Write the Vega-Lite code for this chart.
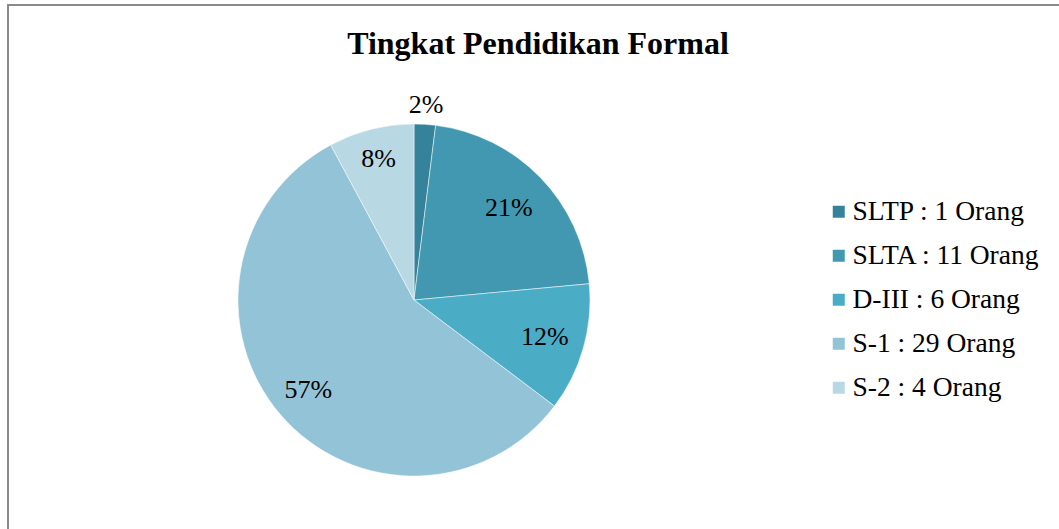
{
  "$schema": "https://vega.github.io/schema/vega-lite/v6.json",
  "width": 1060,
  "height": 530,
  "autosize": {"type": "none"},
  "padding": {"left": 8, "top": 5, "right": 0, "bottom": 0},
  "background": "white",
  "view": {"stroke": "#8a8a8a", "strokeWidth": 2, "fill": "white"},
  "config": {"view": {"stroke": "#8a8a8a", "strokeWidth": 2}, "font": "Liberation Serif"},
  "title": {"text": "Tingkat Pendidikan Formal", "font": "Liberation Serif", "fontSize": 32, "fontWeight": "bold", "color": "#000000", "anchor": "middle", "dy": 60},
  "data": {"values": [
    {"cat": "SLTP : 1 Orang", "value": 1, "pct": "2%", "order": 1},
    {"cat": "SLTA : 11 Orang", "value": 11, "pct": "21%", "order": 2},
    {"cat": "D-III : 6 Orang", "value": 6, "pct": "12%", "order": 3},
    {"cat": "S-1 : 29 Orang", "value": 29, "pct": "57%", "order": 4},
    {"cat": "S-2 : 4 Orang", "value": 4, "pct": "8%", "order": 5}
  ]},
  "encoding": {
    "theta": {"field": "value", "type": "quantitative", "stack": true},
    "order": {"field": "order", "type": "quantitative"}
  },
  "layer": [
    {
      "mark": {"type": "arc", "x": 406, "y": 295, "outerRadius": 176, "stroke": "white", "strokeWidth": 0.5},
      "encoding": {
        "color": {
          "field": "cat", "type": "nominal",
          "sort": ["SLTP : 1 Orang", "SLTA : 11 Orang", "D-III : 6 Orang", "S-1 : 29 Orang", "S-2 : 4 Orang"],
          "scale": {"domain": ["SLTP : 1 Orang", "SLTA : 11 Orang", "D-III : 6 Orang", "S-1 : 29 Orang", "S-2 : 4 Orang"], "range": ["#34839a", "#4298b0", "#4bacc6", "#93c3d6", "#b8d8e4"]},
          "legend": {"title": null, "orient": "none", "legendX": 817, "legendY": 193, "symbolType": "square", "symbolSize": 144, "symbolStrokeWidth": 0, "labelFont": "Liberation Serif", "labelFontSize": 27.5, "labelColor": "#000000", "labelOffset": 0, "rowPadding": 15, "labelLimit": 400, "padding": 0}
        }
      }
    },
    {
      "mark": {"type": "text", "x": 406, "y": 295, "radius": {"expr": "datum.value == 1 ? 195 : datum.value == 11 ? 132 : datum.value == 6 ? 136 : datum.value == 29 ? 139 : 145"}, "fontSize": 26, "font": "Liberation Serif", "color": "#000000"},
      "encoding": {"text": {"field": "pct"}}
    }
  ]
}
